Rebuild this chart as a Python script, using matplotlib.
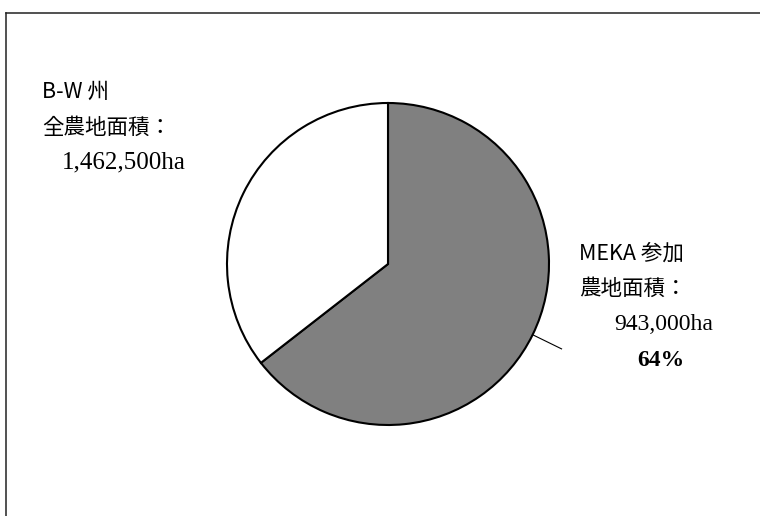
import matplotlib.pyplot as plt
import numpy as np

plt.rcParams['font.family'] = ['Noto Sans CJK JP', 'DejaVu Sans']

# farmland in Baden-Wuerttemberg (ha)
total_area = 1462500
meka_area = 943000
values = [meka_area, total_area - meka_area]
colors = ['#808080', 'white']

share = round(meka_area / total_area * 100)

fig = plt.figure(figsize=(7.6, 5.16), dpi=100)
ax = fig.add_axes([0, 0, 1, 1])

cx, cy, r = 388, 252, 161
ax.pie(values, colors=colors, startangle=90, counterclock=False,
       center=(cx, cy), radius=r,
       wedgeprops=dict(edgecolor='black', linewidth=1.5))

ax.set_xlim(0, 760)
ax.set_ylim(0, 516)
ax.set_aspect('equal')
ax.axis('off')

# border (only top and left edges fall inside the figure)
ax.plot([5.5, 5.5], [0, 503.5], color='#222222', lw=1.1)
ax.plot([5.5, 760], [503.5, 503.5], color='#222222', lw=1.1)

# leader line from the middle of the MEKA wedge
mid = np.deg2rad(90 - meka_area / total_area * 180)
ax.plot([cx + r * np.cos(mid), cx + 1.2 * r * np.cos(mid)],
        [cy + r * np.sin(mid), cy + 1.2 * r * np.sin(mid)],
        color='black', lw=0.8)

cjk = dict(fontsize=15.5, ha='left', va='center', color='black')
serif = dict(ha='left', va='center', color='black', family='Liberation Serif')

ax.text(42, 516 - 92, 'B-W 州', **cjk)
ax.text(42, 516 - 128, '全農地面積：', **cjk)
ax.text(62, 516 - 162, f'{total_area:,}ha', fontsize=18, **serif)

ax.text(579, 516 - 254, 'MEKA 参加', **cjk)
ax.text(579, 516 - 289, '農地面積：', **cjk)
ax.text(614, 516 - 325, f'{meka_area:,}ha', fontsize=17, **serif)
ax.text(637, 516 - 360, f'{share}%', fontsize=17, fontweight='bold', **serif)

fig.savefig('out.png', dpi=100)
